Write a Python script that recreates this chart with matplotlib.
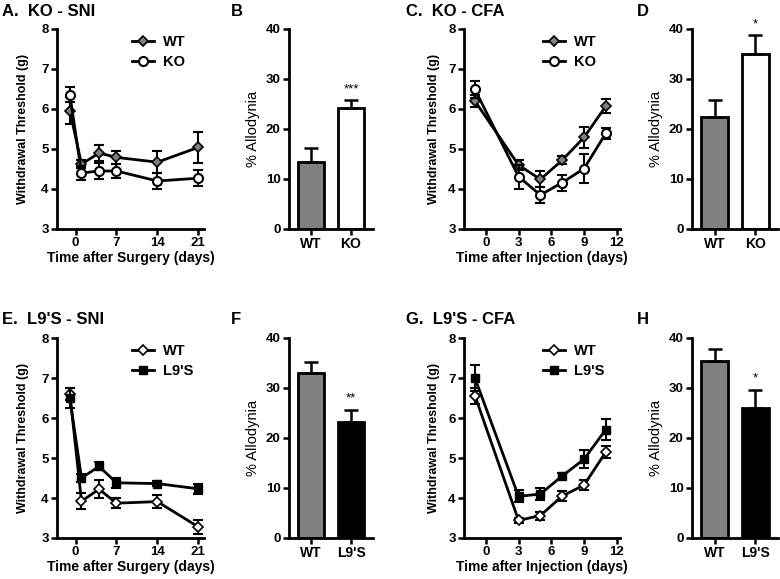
import numpy as np
import matplotlib.pyplot as plt

plt.rcParams['font.family'] = ['Liberation Sans', 'DejaVu Sans']
plt.rcParams['font.weight'] = 'bold'
plt.rcParams['axes.labelweight'] = 'bold'

# days
sni_days = [-1, 1, 4, 7, 14, 21]
cfa_days = [-1, 3, 5, 7, 9, 11]

# A. KO - SNI
a_wt = [5.96, 4.62, 4.90, 4.79, 4.67, 5.04]
a_wt_err = [0.33, 0.10, 0.20, 0.17, 0.27, 0.38]
a_ko = [6.36, 4.40, 4.45, 4.45, 4.20, 4.27]
a_ko_err = [0.18, 0.17, 0.20, 0.18, 0.20, 0.20]

# C. KO - CFA
c_wt = [6.20, 4.60, 4.24, 4.72, 5.29, 6.07]
c_wt_err = [0.15, 0.13, 0.20, 0.10, 0.27, 0.18]
c_ko = [6.49, 4.31, 3.85, 4.16, 4.51, 5.39]
c_ko_err = [0.22, 0.30, 0.20, 0.20, 0.37, 0.13]

# E. L9'S - SNI
e_wt = [6.60, 3.92, 4.22, 3.87, 3.91, 3.28]
e_wt_err = [0.15, 0.20, 0.22, 0.13, 0.17, 0.18]
e_l9 = [6.50, 4.50, 4.79, 4.38, 4.36, 4.23]
e_l9_err = [0.25, 0.10, 0.10, 0.12, 0.07, 0.12]

# G. L9'S - CFA
g_wt = [6.56, 3.44, 3.56, 4.05, 4.32, 5.15]
g_wt_err = [0.20, 0.07, 0.10, 0.12, 0.12, 0.15]
g_l9 = [7.00, 4.04, 4.10, 4.55, 4.97, 5.71]
g_l9_err = [0.33, 0.15, 0.15, 0.07, 0.22, 0.27]

# % allodynia bars
b_vals, b_err = [13.3, 24.1], [2.9, 1.6]
d_vals, d_err = [22.3, 34.9], [3.45, 3.8]
f_vals, f_err = [33.0, 23.3], [2.3, 2.4]
h_vals, h_err = [35.5, 26.1], [2.4, 3.6]

W, H = 780, 579
fig = plt.figure(figsize=(W / 100, H / 100), dpi=100)


def box(left, right, top, bottom):
    return [left / W, 1 - bottom / H, (right - left) / W, (bottom - top) / H]


def style_axes(ax):
    for s in ['top', 'right']:
        ax.spines[s].set_visible(False)
    for s in ['left', 'bottom']:
        ax.spines[s].set_linewidth(2)
    ax.tick_params(width=1.8, length=4, labelsize=9.5, pad=2)


def line_panel(pos, x, y1, e1, y2, e2, names, fmt1, fmt2, xticks, xlim, xlabel, ypad):
    ax = fig.add_axes(box(*pos))
    style_axes(ax)
    for y, e, fmt, name in [(y1, e1, fmt1, names[0]), (y2, e2, fmt2, names[1])]:
        ax.errorbar(x, y, yerr=e, fmt='none', ecolor='black', capsize=3.5, capthick=1.5,
                    elinewidth=1.5)
        ax.plot(x, y, color='black', lw=2, label=name, **fmt)
    ax.set_xlim(xlim)
    ax.set_ylim(3, 8)
    ax.set_xticks(xticks)
    ax.set_yticks(range(3, 9))
    ax.set_xlabel(xlabel, fontsize=10, labelpad=1)
    ax.set_ylabel('Withdrawal Threshold (g)', fontsize=9, labelpad=ypad)
    ax.legend(loc='upper left', frameon=False, fontsize=10.5, handlelength=1.5,
              handletextpad=0.6, borderaxespad=0, labelspacing=0.45,
              bbox_to_anchor=(0.47, 1.0))
    return ax


def bar_panel(pos, labels, vals, errs, colors, star):
    ax = fig.add_axes(box(*pos))
    style_axes(ax)
    xs = np.arange(len(vals))
    ax.bar(xs, vals, width=0.66, color=colors, edgecolor='black', linewidth=2)
    ax.errorbar(xs, vals, yerr=[np.zeros(len(errs)), errs], fmt='none', ecolor='black',
                elinewidth=1.8, capsize=5, capthick=1.8)
    ax.text(xs[1], vals[1] + errs[1] + 1.0, star, ha='center', va='bottom',
            fontsize=9.5, fontweight='normal')
    ax.set_xlim(-0.55, 1.55)
    ax.set_ylim(0, 40)
    ax.set_yticks([0, 10, 20, 30, 40])
    ax.set_xticks(xs)
    ax.set_xticklabels(labels, fontsize=10)
    ax.set_ylabel('% Allodynia', fontsize=10.5, fontweight='normal', labelpad=4)
    return ax


wt_filled = dict(marker='D', markersize=4.6, markerfacecolor='#7f7f7f', markeredgecolor='black',
                 markeredgewidth=1.2)
wt_open = dict(marker='D', markersize=4.6, markerfacecolor='white', markeredgecolor='black',
               markeredgewidth=1.2)
ko_fmt = dict(marker='o', markersize=6.5, markerfacecolor='white', markeredgecolor='black',
              markeredgewidth=1.5)
l9_fmt = dict(marker='s', markersize=5.5, markerfacecolor='black', markeredgecolor='black')

line_panel((57, 204, 29, 229), sni_days, a_wt, a_wt_err, a_ko, a_ko_err, ['WT', 'KO'],
           wt_filled, ko_fmt, [0, 7, 14, 21], (-3.2, 22), 'Time after Surgery (days)', 9)
line_panel((464, 620, 29, 229), cfa_days, c_wt, c_wt_err, c_ko, c_ko_err, ['WT', 'KO'],
           wt_filled, ko_fmt, [0, 3, 6, 9, 12], (-2, 12.3), 'Time after Injection (days)', 6)
line_panel((57, 204, 338, 538), sni_days, e_wt, e_wt_err, e_l9, e_l9_err, ['WT', "L9'S"],
           wt_open, l9_fmt, [0, 7, 14, 21], (-3.2, 22), 'Time after Surgery (days)', 9)
line_panel((464, 620, 338, 538), cfa_days, g_wt, g_wt_err, g_l9, g_l9_err, ['WT', "L9'S"],
           wt_open, l9_fmt, [0, 3, 6, 9, 12], (-2, 12.3), 'Time after Injection (days)', 6)

bar_panel((289, 373, 29, 229), ['WT', 'KO'], b_vals, b_err, ['#808080', 'white'], '***')
bar_panel((692, 778, 29, 229), ['WT', 'KO'], d_vals, d_err, ['#808080', 'white'], '*')
bar_panel((289, 373, 338, 538), ['WT', "L9'S"], f_vals, f_err, ['#808080', 'black'], '**')
bar_panel((692, 778, 338, 538), ['WT', "L9'S"], h_vals, h_err, ['#808080', 'black'], '*')

titles = [(2, 12, 'A.  KO - SNI'), (231, 12, 'B'), (406, 12, 'C.  KO - CFA'), (637, 12, 'D'),
          (2, 320, "E.  L9'S - SNI"), (231, 320, 'F'), (406, 320, "G.  L9'S - CFA"), (637, 320, 'H')]
for tx, ty, t in titles:
    fig.text(tx / W, 1 - ty / H, t, fontsize=12, fontweight='bold', va='center', ha='left')

fig.savefig('out.png', dpi=100)
